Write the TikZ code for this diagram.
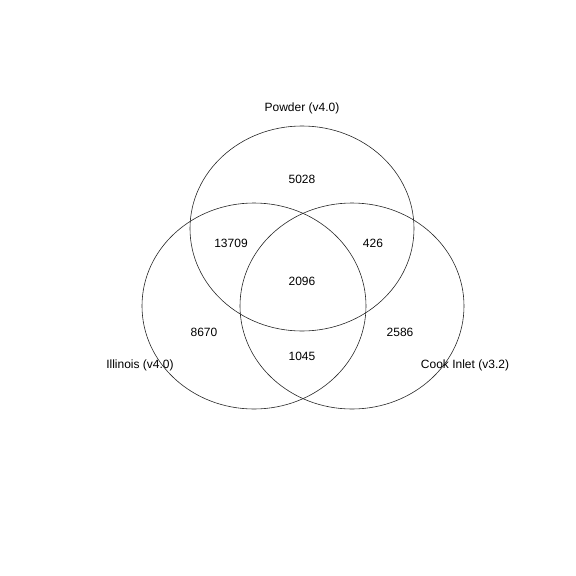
\documentclass[tikz,border=0pt]{standalone}
\usepackage{fontspec}
\setmainfont{Liberation Sans}
\usetikzlibrary{calc}
\tikzset{
	vennline/.style={line width=0.6pt, color=black!85},
	venncount/.style={font=\fontsize{12}{14}\selectfont, inner sep=0pt},
	vennname/.style={font=\fontsize{12}{14}\selectfont, inner sep=0pt}
}
\def\setellipse(#1)(#2:#3){\draw[vennline] (#1) ellipse (#2 and #3);}

\begin{document}
\begin{tikzpicture}[x=1pt, y=-1pt]
			%%%%% START %%%%%
			\useasboundingbox (0, 0) rectangle (576, 576);
			
			\coordinate (powder) at (302, 228.5);
			\coordinate (illinois) at (254, 306);
			\coordinate (cook) at (352, 306);
			
			\setellipse(powder)(112:102.5)
			\setellipse(illinois)(112:103)
			\setellipse(cook)(112:103)
			
			\node[vennname] (powdername) at (302, 108) {Powder (v4.0)};
			\node[vennname] (illinoisname) at (140, 365) {Illinois (v4.0)};
			\node[vennname] (cookname) at (465, 365) {Cook Inlet (v3.2)};
			
			\node[venncount] (onlypowder) at (302, 179) {5028};
			\node[venncount] (powderillinois) at (231, 243) {13709};
			\node[venncount] (powdercook) at (373, 243) {426};
			\node[venncount] (allthree) at (302, 281) {2096};
			\node[venncount] (onlyillinois) at (204, 332) {8670};
			\node[venncount] (onlycook) at (400, 332) {2586};
			\node[venncount] (illinoiscook) at (302, 356) {1045};
			
			%%%%% END %%%%%
\end{tikzpicture}
\end{document}
